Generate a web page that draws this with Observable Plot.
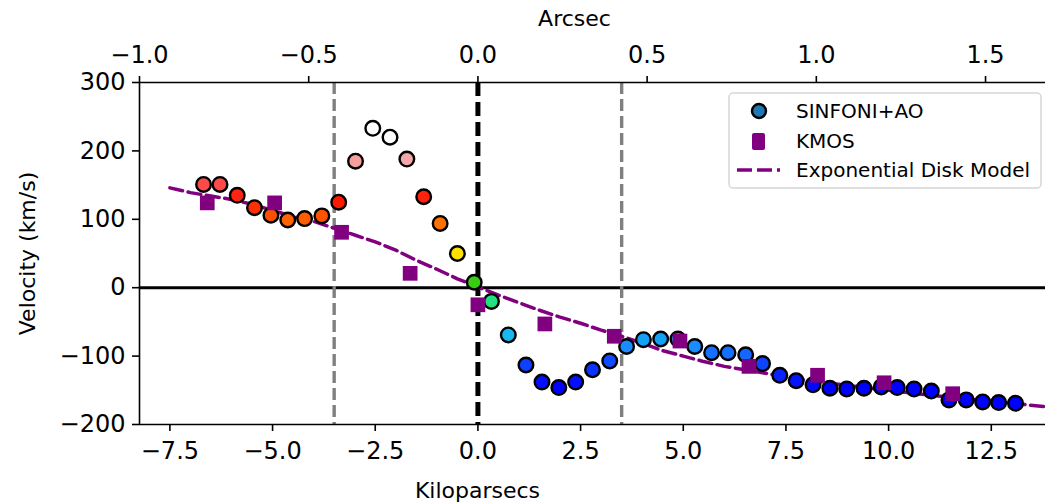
<!DOCTYPE html>
<html>
<head>
<meta charset="utf-8">
<script src="https://cdn.jsdelivr.net/npm/d3@7"></script>
<script src="https://cdn.jsdelivr.net/npm/@observablehq/plot@0.6"></script>
<style>
  body { margin: 0; background: #fff; }
  #chart { position: relative; width: 1045px; height: 502px; }
  #chart svg { display: block; }
</style>
</head>
<body>
<div id="chart"></div>
<script>
// SINFONI+AO rotation curve: position along the slit (kpc) and velocity (km/s)
const sinfoniKpc = [-6.68, -6.28, -5.86, -5.44, -5.04, -4.63, -4.22, -3.80, -3.39, -2.98,
  -2.56, -2.14, -1.73, -1.32, -0.92, -0.50, -0.09, 0.33, 0.74, 1.17,
  1.56, 1.97, 2.38, 2.79, 3.21, 3.62, 4.03, 4.45, 4.87, 5.28,
  5.69, 6.09, 6.52, 6.93, 7.35, 7.75, 8.16, 8.57, 8.98, 9.40,
  9.82, 10.21, 10.62, 11.04, 11.47, 11.89, 12.29, 12.68, 13.09];
const sinfoniVel = [151, 151, 135, 117, 106, 99, 101, 105, 125, 185,
  233, 220, 188, 133, 94, 50, 8, -20, -69, -113,
  -138, -146, -138, -120, -107, -86, -76, -75, -75, -86,
  -95, -95, -98, -111, -128, -136, -142, -147, -148, -147,
  -145, -146, -148, -151, -164, -164, -167, -168, -169];

// KMOS rotation curve
const kmosKpc = [-6.59, -4.95, -3.32, -1.65, 0.0, 1.63, 3.32, 4.92, 6.60, 8.27, 9.89, 11.56];
const kmosVel = [124, 124, 81, 21, -25, -53, -71, -78, -115, -128, -139, -155];

// Exponential disk model curve
const modelKpc = [-7.5, -7.0, -6.5, -6.0, -5.5, -5.0, -4.5, -4.0, -3.5, -3.0, -2.5, -2.0, -1.5, -1.0, -0.5,
  0.0, 0.5, 1.0, 1.5, 2.0, 2.5, 3.0, 3.5, 4.0, 4.5, 5.0, 5.5, 6.0, 6.5, 7.0, 7.5, 8.0,
  9.0, 10.0, 11.0, 12.0, 13.0, 14.0];
const modelVel = [146, 139, 134, 129, 122, 113, 104, 97, 87, 77, 67, 55, 40, 27, 13,
  1, -11, -22, -33, -43, -52, -62, -71, -81, -92, -100, -108, -115, -120, -125, -131, -135,
  -143, -150, -157, -163, -169, -175];

// Aperture boundaries (kpc)
const apertureKpc = [-3.5, 3.5];

// Axis ticks
const kpcTicks = [-7.5, -5.0, -2.5, 0.0, 2.5, 5.0, 7.5, 10.0, 12.5];
const arcsecTicks = [-1.0, -0.5, 0.0, 0.5, 1.0, 1.5];
const velTicks = [-200, -100, 0, 100, 200, 300];
const KPC_PER_ARCSEC = 8.24;

// Velocity colour map for the SINFONI points
const colorStops = [-146, -125, -105, -86, -75, -69, -20, 8, 50, 94, 105, 125, 140, 151, 186, 220];
const colorRange = ["#0000ff", "#0a28ff", "#1050ff", "#1a8cff", "#12a2f5", "#18b8f0", "#20e080", "#38cc14",
  "#ffe000", "#ff7000", "#ff5200", "#ff1800", "#ff2a1a", "#ff4a4a", "#f5a0a0", "#ffffff"];

const sinfoni = sinfoniKpc.map((x, i) => ({x, v: sinfoniVel[i]}));
const kmos = kmosKpc.map((x, i) => ({x, v: kmosVel[i]}));
const model = modelKpc.map((x, i) => ({x, v: modelVel[i]}));

const minus = s => s.replace("-", "\u2212");
const fmt1 = d => minus(d.toFixed(1));
const fmt0 = d => minus(d.toFixed(0));

const xDomain = [-8.24, 13.82];
const yDomain = [-200, 300];
const AX = {stroke: "#000", strokeWidth: 1.6};
const TICK_FONT = 24;
const PURPLE = "#800080";

const chart = Plot.plot({
  width: 1045,
  height: 502,
  marginTop: 82,
  marginLeft: 139,
  marginRight: 0,
  marginBottom: 78,
  style: {fontFamily: "'DejaVu Sans', sans-serif", fontSize: "22px", color: "#000", background: "#fff"},
  x: {domain: xDomain},
  y: {domain: yDomain},
  color: {type: "linear", domain: colorStops, range: colorRange, interpolate: "rgb"},
  marks: [
    Plot.ruleY([0], {stroke: "#000", strokeWidth: 3}),
    Plot.ruleX(apertureKpc, {stroke: "#808080", strokeWidth: 3.4, strokeDasharray: "12,5"}),
    Plot.ruleX([0], {stroke: "#000", strokeWidth: 5, strokeDasharray: "14,6"}),
    Plot.line(model, {x: "x", y: "v", stroke: PURPLE, strokeWidth: 3.5, strokeDasharray: "13,5.6", clip: true}),
    Plot.dot(sinfoni, {x: "x", y: "v", r: 7.3, fill: "v", stroke: "#000", strokeWidth: 2.4}),
    Plot.dot(kmos, {x: "x", y: "v", r: 8.3, symbol: "square", fill: PURPLE, stroke: null}),
    // spines
    Plot.ruleY([yDomain[0]], AX),
    Plot.ruleY([yDomain[1]], AX),
    Plot.ruleX([xDomain[0]], AX),
    // axes
    Plot.axisX({anchor: "bottom", ticks: kpcTicks, tickSize: 7, tickPadding: 10, strokeWidth: 1.6,
      fontSize: TICK_FONT, tickFormat: fmt1, label: null}),
    Plot.axisX({anchor: "top", ticks: arcsecTicks.map(a => a * KPC_PER_ARCSEC), tickSize: 7, tickPadding: 13,
      strokeWidth: 1.6, fontSize: TICK_FONT, tickFormat: d => fmt1(d / KPC_PER_ARCSEC), label: null}),
    Plot.axisY({anchor: "left", ticks: velTicks, tickSize: 7, tickPadding: 7, strokeWidth: 1.6,
      fontSize: TICK_FONT, tickFormat: fmt0, label: null}),
    // axis titles
    Plot.text(["Kiloparsecs"], {frameAnchor: "bottom-left", dx: 338, dy: 66, textAnchor: "middle",
      lineAnchor: "middle", fontSize: 22}),
    Plot.text(["Arcsec"], {frameAnchor: "top-left", dx: 435, dy: -64, textAnchor: "middle",
      lineAnchor: "middle", fontSize: 22}),
    Plot.text(["Velocity (km/s)"], {frameAnchor: "left", dx: -112, rotate: -90, textAnchor: "middle",
      lineAnchor: "middle", fontSize: 22})
  ]
});

document.getElementById("chart").appendChild(chart);

// Legend box in the upper right corner
const svg = d3.select(chart);
const lg = svg.append("g")
  .attr("font-family", "'DejaVu Sans', sans-serif")
  .attr("font-size", 20)
  .attr("text-anchor", "start");
lg.append("rect").attr("x", 729).attr("y", 93).attr("width", 312).attr("height", 95).attr("rx", 4)
  .attr("fill", "#fff").attr("fill-opacity", 0.85).attr("stroke", "#d6d6d6").attr("stroke-width", 1.5);
lg.append("circle").attr("cx", 759).attr("cy", 111).attr("r", 7)
  .attr("fill", "#1f77b4").attr("stroke", "#000").attr("stroke-width", 2.4);
lg.append("rect").attr("x", 752).attr("y", 133).attr("width", 13).attr("height", 17).attr("rx", 2).attr("fill", PURPLE);
lg.append("line").attr("x1", 737).attr("x2", 780).attr("y1", 170).attr("y2", 170)
  .attr("stroke", PURPLE).attr("stroke-width", 3.5).attr("stroke-dasharray", "15,5");
const rows = [["SINFONI+AO", 111], ["KMOS", 141], ["Exponential Disk Model", 170]];
for (const [label, y] of rows) {
  lg.append("text").attr("x", 796).attr("y", y).attr("dy", "0.35em")
    .attr("text-anchor", "start").attr("fill", "#000").text(label);
}
</script>
</body>
</html>
